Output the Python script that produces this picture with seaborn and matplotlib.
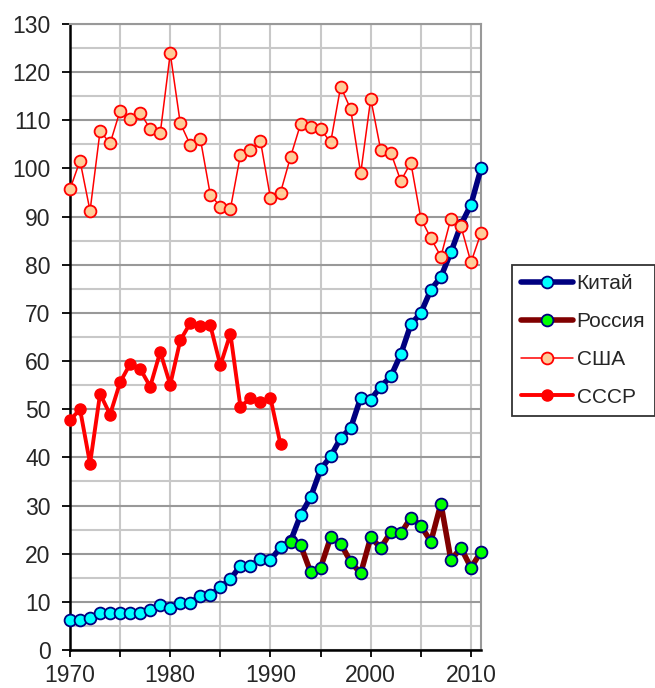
import matplotlib
matplotlib.use("Agg")
import matplotlib.pyplot as plt
from matplotlib.ticker import MultipleLocator
import numpy as np
import pandas as pd
import seaborn as sns

# данные (читаются с исходного графика)
years_all = list(range(1970, 2012))
years_russia = list(range(1992, 2012))
years_ussr = list(range(1970, 1992))

china = [6.2, 6.2, 6.7, 7.6, 7.6, 7.6, 7.6, 7.6, 8.4, 9.3,
         8.8, 9.7, 9.7, 11.3, 11.4, 13.0, 14.7, 17.5, 17.5, 18.8,
         18.7, 21.3, 22.6, 28.0, 31.7, 37.5, 40.2, 44.0, 46.1, 52.4,
         52.0, 54.7, 56.8, 61.4, 67.6, 70.0, 74.8, 77.5, 82.6, 88.3,
         92.5, 100.0]
russia = [22.4, 21.8, 16.2, 17.1, 23.4, 22.1, 18.3, 15.9, 23.4, 21.2,
          24.5, 24.2, 27.5, 25.8, 22.5, 30.4, 18.7, 21.2, 17.1, 20.4]
usa = [95.7, 101.6, 91.2, 107.8, 105.2, 112.0, 110.2, 111.6, 108.2, 107.3,
       123.9, 109.4, 104.9, 106.2, 94.5, 92.1, 91.6, 102.8, 103.8, 105.7,
       93.8, 95.0, 102.4, 109.2, 108.7, 108.2, 105.4, 117.0, 112.3, 99.0,
       114.5, 103.8, 103.3, 97.4, 101.2, 89.6, 85.5, 81.7, 89.6, 88.0,
       80.5, 86.6]
ussr = [47.7, 50.0, 38.7, 53.2, 48.9, 55.6, 59.4, 58.4, 54.7, 61.9,
        55.1, 64.3, 67.9, 67.2, 67.4, 59.1, 65.7, 50.5, 52.3, 51.4,
        52.3, 42.7]

labels = ["Китай", "Россия", "США", "СССР"]

df = pd.concat([
    pd.DataFrame({"year": years_all, "value": china, "country": labels[0]}),
    pd.DataFrame({"year": years_russia, "value": russia, "country": labels[1]}),
    pd.DataFrame({"year": years_all, "value": usa, "country": labels[2]}),
    pd.DataFrame({"year": years_ussr, "value": ussr, "country": labels[3]}),
])

sns.set_style("white")
plt.rcParams["font.family"] = ["Liberation Sans", "DejaVu Sans"]

fig = plt.figure(figsize=(6.55, 6.88), dpi=100)
ax = fig.add_axes([70/655, 1-650/688, (481-70)/655, (650-24)/688])

# стиль каждой линии
styles = {
    "Китай":  dict(color="#000080", lw=4.0, mfc="#00FFFF", mec="#000080", ms=8.5, mew=1.3),
    "Россия": dict(color="#800000", lw=4.0, mfc="#00FF00", mec="#000080", ms=8.5, mew=1.3),
    "США":    dict(color="#FF0000", lw=1.1, mfc="#FFCC99", mec="#FF0000", ms=8.5, mew=1.3),
    "СССР":   dict(color="#FF0000", lw=2.8, mfc="#FF0000", mec="#FF0000", ms=8.0, mew=1.0),
}

for name in labels:
    s = styles[name]
    sns.lineplot(data=df[df["country"] == name], x="year", y="value", ax=ax,
                 color=s["color"], linewidth=s["lw"], marker="o",
                 markersize=s["ms"], markerfacecolor=s["mfc"],
                 markeredgecolor=s["mec"], markeredgewidth=s["mew"],
                 label=name, clip_on=False, zorder=3)

ax.set_xlim(1970, 2011)
ax.set_ylim(0, 130)
ax.xaxis.set_major_locator(MultipleLocator(10))
ax.xaxis.set_minor_locator(MultipleLocator(5))
ax.yaxis.set_major_locator(MultipleLocator(10))
ax.yaxis.set_minor_locator(MultipleLocator(5))

# сетка
ax.grid(True, which="major", axis="y", color="#999999", lw=1.5)
ax.grid(True, which="minor", axis="y", color="#C8C8C8", lw=1.5)
ax.grid(True, which="both", axis="x", color="#C8C8C8", lw=1.5)
ax.set_axisbelow(True)

ax.tick_params(axis="y", which="major", direction="out", length=6, width=1.3,
               color="black", labelsize=16.5, pad=8, left=True)
ax.tick_params(axis="y", which="minor", length=0)
ax.tick_params(axis="x", which="both", direction="out", length=5, width=1.3,
               color="black", labelsize=16.5, pad=5, bottom=True)

for side in ["left", "bottom"]:
    ax.spines[side].set_color("black")
    ax.spines[side].set_linewidth(1.8)
for side in ["top", "right"]:
    ax.spines[side].set_color("#999999")
    ax.spines[side].set_linewidth(1.5)

ax.set_xlabel("")
ax.set_ylabel("")

handles, labs = ax.get_legend_handles_labels()
ax.legend_.remove()
leg = fig.legend(handles, labs, loc="upper left", bbox_to_anchor=(512/655, 1-265/688),
                 fontsize=15, frameon=True, fancybox=False, edgecolor="black",
                 handlelength=2.5, handletextpad=0.15, labelspacing=0.9,
                 borderpad=0.45, borderaxespad=0)
leg.get_frame().set_linewidth(1.3)

fig.savefig("out.png", dpi=100)
